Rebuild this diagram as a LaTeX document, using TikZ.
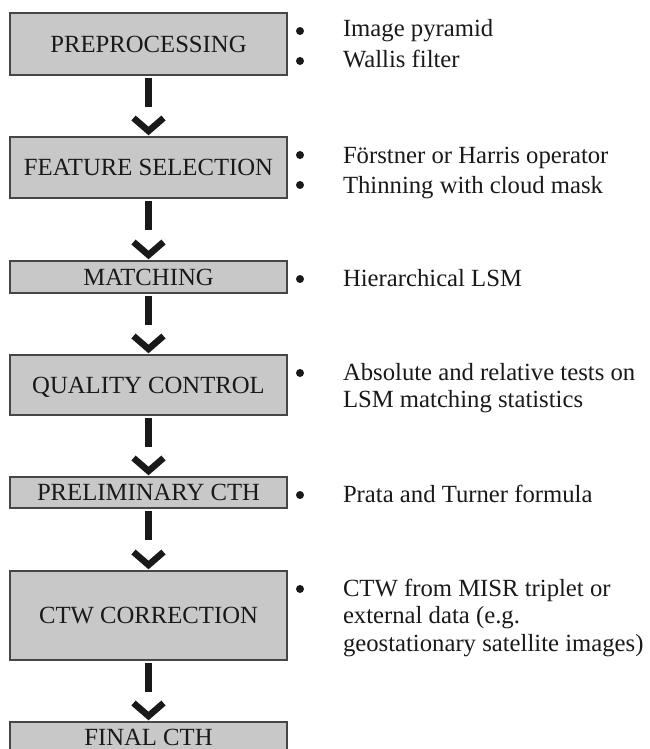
\documentclass[tikz,border=0pt]{standalone}
\usepackage{fontspec}
\setmainfont{Liberation Serif}
\usetikzlibrary{calc}
\definecolor{boxgray}{RGB}{200,200,200}
\definecolor{edgegray}{RGB}{70,70,70}
\definecolor{ink}{RGB}{25,25,25}
\begin{document}
\begin{tikzpicture}[x=1pt,y=-1pt,
  every node/.style={inner sep=0pt,outer sep=0pt,text=ink},
  stage/.style={draw=edgegray,line width=1.3pt,fill=boxgray,
    minimum width=277pt,anchor=center,
    font=\fontsize{24.7}{28}\selectfont,text height=16.3pt,text depth=0pt},
  item/.style={anchor=base west,font=\fontsize{24.7}{28}\selectfont},
  dot/.style={circle,fill=ink,minimum size=8pt},
  shaft/.style={draw=ink,line width=6.5pt},
  chevron/.style={draw=ink,line width=6.5pt,miter limit=10,line join=miter}]
\useasboundingbox (0,0) rectangle (649,749);
\begin{scope}
\clip (0,0) rectangle (649,749);
% process stages
\node[stage,minimum height=62pt] (b1) at (148.5,44)    {PREPROCESSING};
\node[stage,minimum height=61pt] (b2) at (148.5,167.5) {FEATURE SELECTION};
\node[stage,minimum height=32pt] (b3) at (148.5,277)   {MATCHING};
\node[stage,minimum height=60pt] (b4) at (148.5,385)   {QUALITY CONTROL};
\node[stage,minimum height=31pt] (b5) at (148.5,492.5) {PRELIMINARY CTH};
\node[stage,minimum height=89pt] (b6) at (148.5,615.5) {CTW CORRECTION};
\node[stage,minimum height=31pt] (b7) at (148.5,737.5) {FINAL CTH};
\end{scope}
% connectors: a bar below each stage and a chevron on top of the next one
\foreach \a/\b in {b1/b2,b2/b3,b3/b4,b4/b5,b5/b6,b6/b7}{
  \draw[shaft] ($(\a.south)+(0,3)$) -- ($(\a.south)+(0,32)$);
  \draw[chevron] ($(\b.north)+(-15,-19)$) -- ($(\b.north)+(0,-6)$) -- ($(\b.north)+(15,-19)$);
}
% notes beside each stage
\node[dot] (d1) at (300,31) {};
\node[item] (t1) at (343,37) {Image pyramid};
\node[dot] (d2) at (300,61) {};
\node[item] (t2) at (343,68) {Wallis filter};
\node[dot] (d3) at (300,155) {};
\node[item] (t3) at (343,163) {Förstner or Harris operator};
\node[dot] (d4) at (300,185) {};
\node[item] (t4) at (343,193) {Thinning with cloud mask};
\node[dot] (d5) at (300,279) {};
\node[item] (t5) at (343,286) {Hierarchical LSM};
\node[dot] (d6) at (300,373) {};
\node[item] (t6a) at (343,380) {Absolute and relative tests on};
\node[item] (t6b) at (343,407) {LSM matching statistics};
\node[dot] (d7) at (300,495) {};
\node[item] (t7) at (343,502) {Prata and Turner formula};
\node[dot] (d8) at (300,589) {};
\node[item] (t8a) at (343,596) {CTW from MISR triplet or};
\node[item] (t8b) at (343,623.5) {external data (e.g.};
\node[item] (t8c) at (343,651) {geostationary satellite images)};
\end{tikzpicture}
\end{document}
